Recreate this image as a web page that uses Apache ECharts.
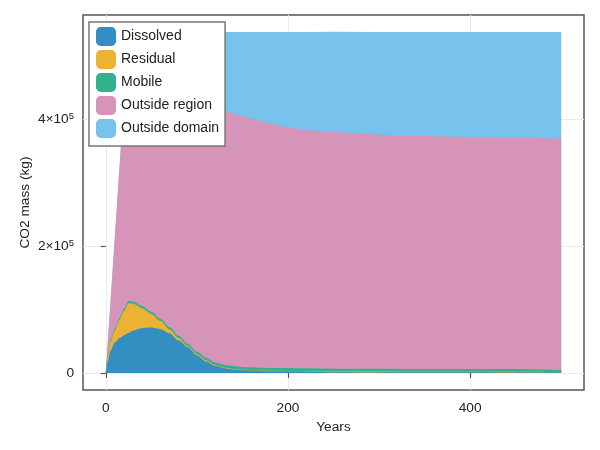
<!DOCTYPE html>
<html>
<head>
<meta charset="utf-8">
<title>CO2 mass</title>
<script src="https://cdn.jsdelivr.net/npm/echarts@6/dist/echarts.min.js"></script>
<style>
  html, body { margin: 0; padding: 0; background: #fff; }
  #chart { width: 600px; height: 450px; }
</style>
</head>
<body>
<div id="chart"></div>
<script>
// time points (years) shared by every band
var years = [0, 2.5, 5, 10, 15, 20, 25, 30, 40, 50, 60, 70, 80, 90, 100, 110, 120, 130, 140, 150, 160, 170, 185, 200, 220, 250, 300, 350, 400, 450, 500];

// mass per trapping category (kg)
var dissolved = [0, 20000, 35000, 48000, 55000, 59500, 63000, 67000, 71000, 71500, 69000, 62500, 51000, 40500, 28000, 18000, 11000, 7500, 5500, 4200, 3700, 3200, 2800, 2500, 2000, 1200, 800, 1000, 1200, 900, 1000];
var residual = [0, 10000, 13000, 19000, 29000, 38500, 47000, 42000, 31000, 21500, 13000, 6500, 4000, 2000, 2000, 2000, 1500, 1000, 800, 800, 750, 700, 700, 700, 800, 1000, 1400, 800, 600, 1000, 500];
var mobile = [0, 1500, 2500, 3000, 3200, 3400, 3500, 3500, 3500, 3500, 3500, 3500, 3600, 3700, 3800, 4000, 4200, 4400, 4500, 4500, 4500, 4500, 4500, 4500, 4500, 4500, 4500, 4500, 4400, 4200, 3000];
var outsideRegion = [0, 22250, 57000, 145000, 235300, 325600, 378000, 373500, 370500, 370500, 373000, 378000, 384400, 389800, 395700, 399500, 401300, 400500, 398200, 395300, 391750, 388500, 383700, 379300, 375700, 373100, 368900, 367200, 365800, 364700, 365300];
var outsideDomain = [0, 0, 0, 0, 0, 3000, 46000, 51500, 61500, 70500, 79000, 87000, 94500, 101500, 108000, 114000, 119500, 124100, 128500, 132700, 136800, 140600, 145800, 150500, 154500, 158200, 161900, 164000, 165500, 166700, 167700];

var names = ['Dissolved', 'Residual', 'Mobile', 'Outside region', 'Outside domain'];
var colors = ['#338ec1', '#ebb233', '#33b18f', '#d694b9', '#78c3ed'];
var bands = [dissolved, residual, mobile, outsideRegion, outsideDomain];

var xTicks = [0, 200, 400];
var yTicks = [0, 200000, 400000];

var chart = echarts.init(document.getElementById('chart'));

var font = 'Liberation Sans, Arial, sans-serif';
var fs = 13.7;

function yLabel(v) {
    if (v === 0) return '0';
    var m = v / 100000;
    return '{a|' + m + '×10}{s|5}';
}

// running totals: each band is filled down to zero, lower bands painted over upper ones
var running = years.map(function () { return 0; });
var series = bands.map(function (vals, k) {
    running = running.map(function (s, i) { return s + vals[i]; });
    var tops = running.slice();
    return {
        name: names[k],
        type: 'line',
        z: 10 - k,
        data: years.map(function (y, i) { return [y, tops[i]]; }),
        symbol: 'none',
        // the slow outer bands look fine as polylines; the peaked inner ones get smoothed
        smooth: k < 3 ? 0.3 : false,
        smoothMonotone: 'x',
        lineStyle: { width: 0 },
        areaStyle: { color: colors[k], opacity: 1 },
        itemStyle: { color: colors[k] },
        emphasis: { disabled: true }
    };
});

chart.setOption({
    animation: false,
    textStyle: { fontFamily: font },
    grid: {
        left: 83, right: 16, top: 15, bottom: 60,
        show: true, borderColor: '#555', borderWidth: 1.5,
        backgroundColor: 'transparent'
    },
    legend: {
        orient: 'vertical',
        left: 89, top: 22,
        z: 50,
        data: names,
        icon: 'roundRect',
        itemWidth: 20, itemHeight: 19, itemGap: 4,
        padding: [5, 6, 8, 7],
        backgroundColor: '#fff',
        borderColor: '#777', borderWidth: 1.5,
        textStyle: { fontSize: 14, color: '#222', fontFamily: font }
    },
    xAxis: {
        type: 'value',
        min: -25, max: 525,
        name: 'Years',
        nameLocation: 'middle',
        nameGap: 30,
        nameMoveOverlap: false,
        nameTextStyle: { fontSize: fs, color: '#222' },
        axisLine: { show: false },
        axisTick: { show: true, length: 5, inside: false, customValues: xTicks, lineStyle: { color: '#555', width: 1.2 } },
        axisLabel: { customValues: xTicks, fontSize: fs, color: '#222', margin: 11 },
        splitLine: { show: true, lineStyle: { color: '#ebebeb', width: 1 } }
    },
    yAxis: {
        type: 'value',
        min: -26875, max: 564375,
        name: 'CO2 mass (kg)',
        nameLocation: 'middle',
        nameGap: 51,
        nameMoveOverlap: false,
        nameTextStyle: { fontSize: fs, color: '#222' },
        axisLine: { show: false },
        axisTick: { show: true, length: 5, inside: false, customValues: yTicks, lineStyle: { color: '#555', width: 1.2 } },
        axisLabel: {
            customValues: yTicks,
            fontSize: fs, color: '#222', margin: 9,
            formatter: yLabel,
            rich: {
                a: { fontSize: fs, color: '#222', fontFamily: font },
                s: { fontSize: 9.5, color: '#222', fontFamily: font, verticalAlign: 'top', padding: [0, 0, 6, 0] }
            }
        },
        splitLine: { show: true, lineStyle: { color: '#ebebeb', width: 1 } }
    },
    series: series
});
</script>
</body>
</html>
